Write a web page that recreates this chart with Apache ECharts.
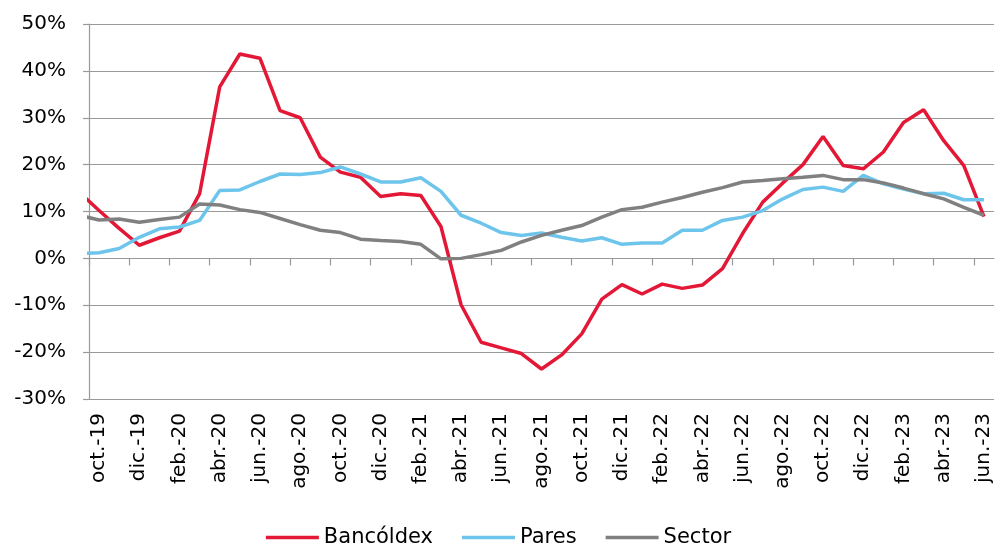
<!DOCTYPE html>
<html>
<head>
    <meta charset="utf-8">
    <title>Bancóldex vs Pares vs Sector</title>
    <script type="text/javascript" src="https://cdn.jsdelivr.net/npm/echarts@6.0.0/dist/echarts.min.js"></script>
    <style>
        html, body { margin: 0; padding: 0; background: #fff; }
    </style>
</head>
<body>
<div id="main" style="width: 997px;height:546px;"></div>

<script type="text/javascript">
    // meses (el primero, sep.-19, queda fuera del eje y solo se ve cortado en el borde)
    var months = ['sep.-19', 'oct.-19', 'nov.-19', 'dic.-19',
        'ene.-20', 'feb.-20', 'mar.-20', 'abr.-20', 'may.-20', 'jun.-20', 'jul.-20', 'ago.-20', 'sep.-20', 'oct.-20', 'nov.-20', 'dic.-20',
        'ene.-21', 'feb.-21', 'mar.-21', 'abr.-21', 'may.-21', 'jun.-21', 'jul.-21', 'ago.-21', 'sep.-21', 'oct.-21', 'nov.-21', 'dic.-21',
        'ene.-22', 'feb.-22', 'mar.-22', 'abr.-22', 'may.-22', 'jun.-22', 'jul.-22', 'ago.-22', 'sep.-22', 'oct.-22', 'nov.-22', 'dic.-22',
        'ene.-23', 'feb.-23', 'mar.-23', 'abr.-23', 'may.-23', 'jun.-23'];

    // crecimiento anual (%)
    var bancoldex = [14.2, 10.2, 6.4, 2.8, 4.4, 5.8, 13.8, 36.6, 43.6, 42.7, 31.5, 30.0, 21.6, 18.4, 17.3, 13.2,
        13.8, 13.4, 6.8, -9.9, -17.9, -19.1, -20.3, -23.6, -20.6, -16.1, -8.7, -5.6,
        -7.6, -5.5, -6.4, -5.7, -2.2, 5.3, 12.0, 16.1, 20.0, 26.0, 19.8, 19.1,
        22.7, 29.0, 31.7, 25.1, 19.8, 8.9];
    var pares = [1.0, 1.2, 2.1, 4.5, 6.3, 6.7, 8.1, 14.5, 14.6, 16.4, 18.0, 17.9, 18.3, 19.5, 18.0, 16.3,
        16.3, 17.2, 14.3, 9.2, 7.5, 5.5, 4.9, 5.4, 4.5, 3.7, 4.4, 3.0,
        3.3, 3.3, 6.0, 6.0, 8.1, 8.8, 10.2, 12.7, 14.7, 15.2, 14.3, 17.7,
        15.9, 14.8, 13.8, 13.9, 12.5, 12.5];
    var sector = [9.2, 8.2, 8.4, 7.7, 8.3, 8.8, 11.6, 11.4, 10.4, 9.8, 8.5, 7.2, 6.0, 5.5, 4.1, 3.8,
        3.6, 3.0, -0.1, 0.0, 0.8, 1.7, 3.5, 4.9, 6.0, 7.0, 8.8, 10.4,
        10.9, 12.0, 13.0, 14.1, 15.1, 16.3, 16.6, 17.0, 17.3, 17.7, 16.8, 16.8,
        16.1, 15.0, 13.8, 12.7, 10.9, 9.2];

    var yTicks = [-30, -20, -10, 0, 10, 20, 30, 40, 50];

    function toPairs(arr) {
        return arr.map(function (v, i) { return [i, v]; });
    }

    // etiquetas cada dos meses (desde oct.-19), marcas entre meses
    var labelIdx = [];
    var tickIdx = [];
    for (var i = 1; i < months.length; i += 2) {
        labelIdx.push(i);
        tickIdx.push(i - 0.5);
    }

    var chart = echarts.init(document.getElementById('main'));
    var font = 'DejaVu Sans';

    var option = {
        animation: false,
        grid: { left: 89, right: 3, top: 24, bottom: 147, outerBoundsMode: 'none', containLabel: false },
        legend: {
            left: 'center',
            top: 522,
            icon: 'rect',
            itemWidth: 53,
            itemHeight: 3.5,
            itemGap: 29,
            textStyle: { fontFamily: font, fontSize: 21, color: '#000' },
            data: ['Bancóldex', 'Pares', 'Sector']
        },
        xAxis: {
            type: 'value',
            min: 0.5,
            max: months.length - 0.5,
            axisLine: { show: true, onZero: true, lineStyle: { color: '#999', width: 1.2 } },
            axisTick: { show: true, length: 7, customValues: tickIdx, lineStyle: { color: '#999', width: 1.2 } },
            axisLabel: {
                customValues: labelIdx,
                rotate: 90,
                margin: 14,
                fontFamily: font,
                fontSize: 20,
                color: '#000',
                formatter: function (v) { return months[Math.round(v)]; }
            },
            splitLine: { show: false }
        },
        yAxis: {
            type: 'value',
            min: yTicks[0],
            max: yTicks[yTicks.length - 1],
            interval: 10,
            axisLine: { show: true, lineStyle: { color: '#999', width: 1.2 } },
            axisTick: { show: true, length: 6, lineStyle: { color: '#999', width: 1.2 } },
            axisLabel: {
                margin: 23,
                fontFamily: font,
                fontSize: 20,
                color: '#000',
                formatter: '{value}%'
            },
            splitLine: { show: true, lineStyle: { color: '#999', width: 1.2 } }
        },
        series: [
            {
                name: 'Bancóldex',
                type: 'line',
                data: toPairs(bancoldex),
                symbol: 'none',
                color: '#E31837',
                lineStyle: { width: 3.5, color: '#E31837' }
            },
            {
                name: 'Pares',
                type: 'line',
                data: toPairs(pares),
                symbol: 'none',
                color: '#6EC5EB',
                lineStyle: { width: 3.5, color: '#6EC5EB' }
            },
            {
                name: 'Sector',
                type: 'line',
                data: toPairs(sector),
                symbol: 'none',
                color: '#808080',
                lineStyle: { width: 3.5, color: '#808080' }
            }
        ]
    };

    chart.setOption(option);
</script>
</body>
</html>
